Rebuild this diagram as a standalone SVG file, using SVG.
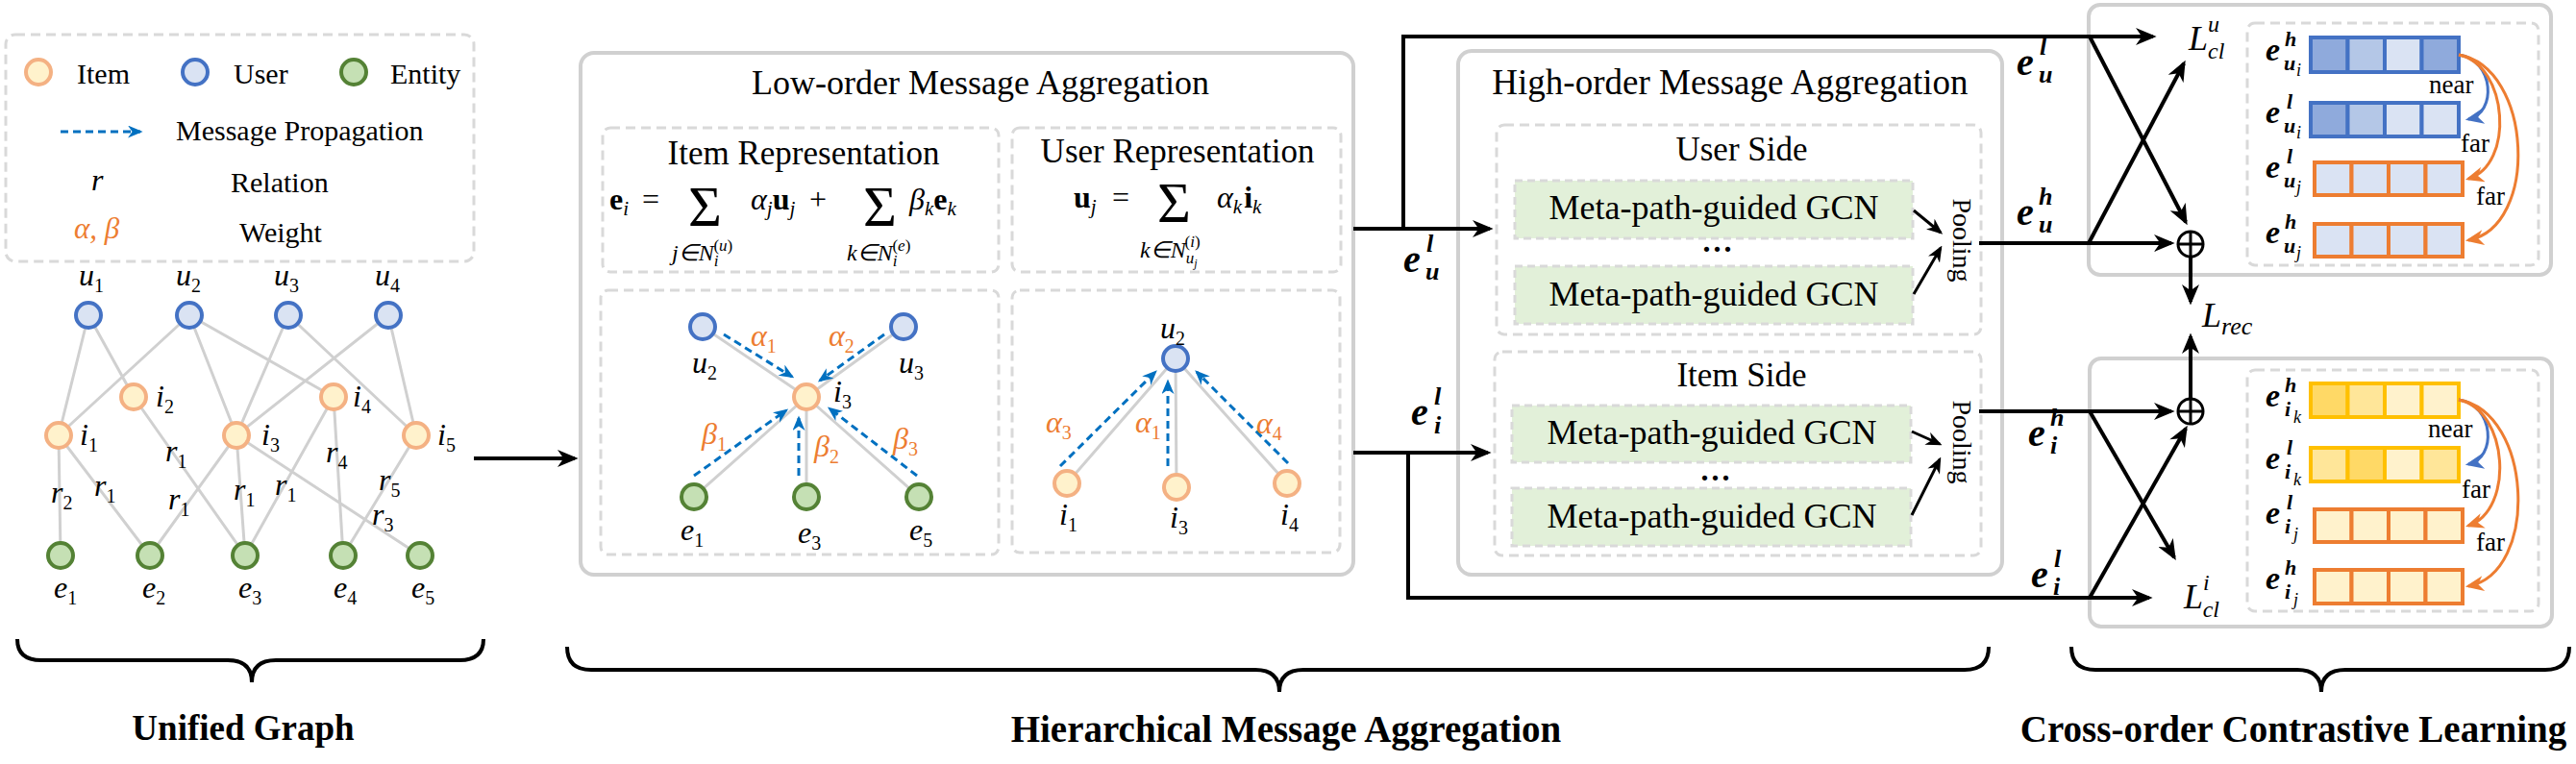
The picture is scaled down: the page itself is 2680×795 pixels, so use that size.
<svg xmlns="http://www.w3.org/2000/svg" width="2680" height="795" viewBox="0 0 2680 795">
<defs>
<style>
.t{font-family:"Liberation Serif","Times New Roman",serif;fill:#000}
.mi{font-family:"Liberation Serif","Times New Roman",serif;font-style:italic;fill:#000}
.mi:not([font-size]){font-size:32px}
.s{font-style:normal;font-size:20px}
.or{fill:#ed7d31}
.edge{stroke:#d0d0d0;stroke-width:3;fill:none}
.dash{stroke:#0070c0;stroke-width:3;stroke-dasharray:8 5;fill:none}
.item{fill:#fff2cc;stroke:#f4b183;stroke-width:4}
.user{fill:#dae3f3;stroke:#4472c4;stroke-width:4}
.ent{fill:#c5e0b4;stroke:#548235;stroke-width:4}
.box{fill:none;stroke:#d0d0d0;stroke-width:4}
.dbox{fill:none;stroke:#d9d9d9;stroke-width:3;stroke-dasharray:10 6}
.gcn{fill:#e2f0d9;stroke:#d9d9d9;stroke-width:3;stroke-dasharray:8 5}
.ln{stroke:#000;stroke-width:4;fill:none}
.lnt{stroke:#000;stroke-width:3;fill:none}
.eb{font-family:"Liberation Serif","Times New Roman",serif;font-style:italic;font-weight:bold;fill:#000}
.bt{font-family:"Liberation Serif","Times New Roman",serif;font-weight:bold;fill:#000}
.vb{stroke:#4472c4;stroke-width:4}
.vo{stroke:#ed7d31;stroke-width:4}
.vy{stroke:#ffc000;stroke-width:4}
</style>
<marker id="ah" viewBox="0 0 12 10" refX="10" refY="5" markerWidth="22" markerHeight="18" markerUnits="userSpaceOnUse" orient="auto"><path d="M0,0 L12,5 L0,10 L3.5,5z" fill="#000"/></marker>
<marker id="ahs" viewBox="0 0 12 10" refX="10" refY="5" markerWidth="17" markerHeight="14" markerUnits="userSpaceOnUse" orient="auto"><path d="M0,0 L12,5 L0,10 L3.5,5z" fill="#000"/></marker>
<marker id="bh" viewBox="0 0 12 10" refX="10" refY="5" markerWidth="16" markerHeight="13" markerUnits="userSpaceOnUse" orient="auto"><path d="M0,0 L12,5 L0,10 L3.5,5z" fill="#0070c0"/></marker>
<marker id="bc" viewBox="0 0 12 10" refX="10" refY="5" markerWidth="20" markerHeight="16" markerUnits="userSpaceOnUse" orient="auto"><path d="M0,0 L12,5 L0,10 L3.5,5z" fill="#4472c4"/></marker>
<marker id="oc" viewBox="0 0 12 10" refX="10" refY="5" markerWidth="20" markerHeight="16" markerUnits="userSpaceOnUse" orient="auto"><path d="M0,0 L12,5 L0,10 L3.5,5z" fill="#ed7d31"/></marker>
</defs>
<rect width="2680" height="795" fill="#fff"/>

<!-- Legend -->
<g id="legend">
<rect class="dbox" x="6" y="36" width="487" height="236" rx="10"/>
<circle class="item" cx="40" cy="75" r="13"/>
<text class="t" x="80" y="87" font-size="30">Item</text>
<circle class="user" cx="203" cy="75" r="13"/>
<text class="t" x="243" y="87" font-size="30">User</text>
<circle class="ent" cx="368" cy="75" r="13"/>
<text class="t" x="406" y="87" font-size="30">Entity</text>
<path class="dash" d="M63,137 H146" marker-end="url(#bh)"/>
<text class="t" x="183" y="146" font-size="30">Message Propagation</text>
<text class="mi" x="95" y="198" font-size="32">r</text>
<text class="t" x="240" y="200" font-size="30">Relation</text>
<text class="mi or" x="77" y="248" font-size="31">α, β</text>
<text class="t" x="249" y="252" font-size="30">Weight</text>
</g>

<!-- Unified graph edges -->
<g id="graph-edges">
<path class="edge" d="M92,328 L61,453 M92,328 L139,413 M197,328 L61,453 M197,328 L246,453 M197,328 L347,413 M300,328 L246,453 M300,328 L433,453 M404,328 L246,453 M404,328 L433,453"/>
<path class="edge" d="M61,453 L63,578 M61,453 L156,578 M139,413 L255,578 M246,453 L156,578 M246,453 L255,578 M246,453 L437,578 M347,413 L255,578 M347,413 L357,578 M433,453 L357,578"/>
<text class="mi" x="53" y="523">r<tspan class="s" dy="7">2</tspan></text>
<text class="mi" x="98" y="516">r<tspan class="s" dy="7">1</tspan></text>
<text class="mi" x="172" y="480">r<tspan class="s" dy="7">1</tspan></text>
<text class="mi" x="175" y="530">r<tspan class="s" dy="7">1</tspan></text>
<text class="mi" x="243" y="520">r<tspan class="s" dy="7">1</tspan></text>
<text class="mi" x="286" y="515">r<tspan class="s" dy="7">1</tspan></text>
<text class="mi" x="339" y="481">r<tspan class="s" dy="7">4</tspan></text>
<text class="mi" x="394" y="510">r<tspan class="s" dy="7">5</tspan></text>
<text class="mi" x="387" y="546">r<tspan class="s" dy="7">3</tspan></text>
</g>

<!-- Unified graph nodes -->
<g id="u1"><circle class="user" cx="92" cy="328" r="13"/><text class="mi" x="82" y="297">u<tspan class="s" dy="7">1</tspan></text></g>
<g id="u2"><circle class="user" cx="197" cy="328" r="13"/><text class="mi" x="183" y="297">u<tspan class="s" dy="7">2</tspan></text></g>
<g id="u3"><circle class="user" cx="300" cy="328" r="13"/><text class="mi" x="285" y="297">u<tspan class="s" dy="7">3</tspan></text></g>
<g id="u4"><circle class="user" cx="404" cy="328" r="13"/><text class="mi" x="390" y="297">u<tspan class="s" dy="7">4</tspan></text></g>
<g id="i1"><circle class="item" cx="61" cy="453" r="13"/><text class="mi" x="83" y="463">i<tspan class="s" dy="7">1</tspan></text></g>
<g id="i2"><circle class="item" cx="139" cy="413" r="13"/><text class="mi" x="162" y="423">i<tspan class="s" dy="7">2</tspan></text></g>
<g id="i3"><circle class="item" cx="246" cy="453" r="13"/><text class="mi" x="272" y="463">i<tspan class="s" dy="7">3</tspan></text></g>
<g id="i4"><circle class="item" cx="347" cy="413" r="13"/><text class="mi" x="367" y="423">i<tspan class="s" dy="7">4</tspan></text></g>
<g id="i5"><circle class="item" cx="433" cy="453" r="13"/><text class="mi" x="455" y="463">i<tspan class="s" dy="7">5</tspan></text></g>
<g id="e1"><circle class="ent" cx="63" cy="578" r="13"/><text class="mi" x="56" y="622">e<tspan class="s" dy="7">1</tspan></text></g>
<g id="e2"><circle class="ent" cx="156" cy="578" r="13"/><text class="mi" x="148" y="622">e<tspan class="s" dy="7">2</tspan></text></g>
<g id="e3"><circle class="ent" cx="255" cy="578" r="13"/><text class="mi" x="248" y="622">e<tspan class="s" dy="7">3</tspan></text></g>
<g id="e4"><circle class="ent" cx="357" cy="578" r="13"/><text class="mi" x="347" y="622">e<tspan class="s" dy="7">4</tspan></text></g>
<g id="e5"><circle class="ent" cx="437" cy="578" r="13"/><text class="mi" x="428" y="622">e<tspan class="s" dy="7">5</tspan></text></g>

<!-- Low-order message aggregation -->
<g id="low-order">
<rect class="box" x="604" y="55" width="804" height="543" rx="14"/>
<text class="t" x="1020" y="98" font-size="36" text-anchor="middle">Low-order Message Aggregation</text>
</g>

<g id="item-rep">
<rect class="dbox" x="627" y="133" width="412" height="150" rx="8"/>
<text class="t" x="836" y="171" font-size="35" text-anchor="middle">Item Representation</text>
<text class="t" x="634" y="218" font-size="32" font-weight="bold">e<tspan font-size="21" font-style="italic" font-weight="normal" dy="6">i</tspan></text>
<text class="t" x="668" y="218" font-size="32">=</text>
<text class="t" x="716" y="235" font-size="60">Σ</text>
<text class="mi" x="781" y="218">α<tspan font-size="21" dy="6">j</tspan><tspan font-style="normal" font-weight="bold" font-size="32" dy="-6">u</tspan><tspan font-size="21" dy="6">j</tspan></text>
<text class="t" x="842" y="218" font-size="32">+</text>
<text class="t" x="898" y="235" font-size="60">Σ</text>
<text class="mi" x="946" y="218">β<tspan font-size="21" dy="6">k</tspan><tspan font-style="normal" font-weight="bold" font-size="32" dy="-6">e</tspan><tspan font-size="21" dy="6">k</tspan></text>
<text class="mi" x="699" y="271" font-size="24">j∈N<tspan font-size="17" dy="6">i</tspan><tspan font-size="17" dx="-5" dy="-16" font-style="normal">(<tspan font-style="italic">u</tspan>)</tspan></text>
<text class="mi" x="881" y="271" font-size="24">k∈N<tspan font-size="17" dy="6">i</tspan><tspan font-size="17" dx="-5" dy="-16" font-style="normal">(<tspan font-style="italic">e</tspan>)</tspan></text>
</g>

<g id="user-rep">
<rect class="dbox" x="1053" y="133" width="342" height="150" rx="8"/>
<text class="t" x="1225" y="169" font-size="35" text-anchor="middle">User Representation</text>
<text class="t" x="1117" y="216" font-size="32" font-weight="bold">u<tspan font-size="21" font-style="italic" font-weight="normal" dy="6">j</tspan></text>
<text class="t" x="1157" y="216" font-size="32">=</text>
<text class="t" x="1204" y="231" font-size="60">Σ</text>
<text class="mi" x="1266" y="216">α<tspan font-size="21" dy="6">k</tspan><tspan font-style="normal" font-weight="bold" font-size="32" dy="-6" dx="2">i</tspan><tspan font-size="21" dy="6">k</tspan></text>
<text class="mi" x="1186" y="268" font-size="24">k∈N<tspan font-size="17" dy="6">u</tspan><tspan font-size="12" dy="4">j</tspan><tspan font-size="17" dx="-13" dy="-21" font-style="normal">(<tspan font-style="italic">i</tspan>)</tspan></text>
</g>

<g id="item-tree">
<rect class="dbox" x="625" y="302" width="414" height="275" rx="8"/>
<path class="edge" d="M731,340 L839,413 M940,340 L839,413 M722,517 L839,413 M839,517 L839,413 M956,517 L839,413"/>
<path class="dash" d="M753,348 L824,392" marker-end="url(#bh)"/>
<path class="dash" d="M920,348 L853,396" marker-end="url(#bh)"/>
<path class="dash" d="M722,495 L818,427" marker-end="url(#bh)"/>
<path class="dash" d="M831,495 V435" marker-end="url(#bh)"/>
<path class="dash" d="M954,495 L863,425" marker-end="url(#bh)"/>
<circle class="user" cx="731" cy="340" r="13"/>
<circle class="user" cx="940" cy="340" r="13"/>
<circle class="item" cx="839" cy="413" r="13"/>
<circle class="ent" cx="722" cy="517" r="13"/>
<circle class="ent" cx="839" cy="517" r="13"/>
<circle class="ent" cx="956" cy="517" r="13"/>
<text class="mi" x="720" y="388">u<tspan class="s" dy="7">2</tspan></text>
<text class="mi" x="935" y="388">u<tspan class="s" dy="7">3</tspan></text>
<text class="mi" x="867" y="418">i<tspan class="s" dy="7">3</tspan></text>
<text class="mi" x="708" y="562">e<tspan class="s" dy="7">1</tspan></text>
<text class="mi" x="830" y="565">e<tspan class="s" dy="7">3</tspan></text>
<text class="mi" x="946" y="562">e<tspan class="s" dy="7">5</tspan></text>
<text class="mi or" x="781" y="360">α<tspan class="s" dy="7">1</tspan></text>
<text class="mi or" x="862" y="360">α<tspan class="s" dy="7">2</tspan></text>
<text class="mi or" x="730" y="462">β<tspan class="s" dy="7">1</tspan></text>
<text class="mi or" x="847" y="475">β<tspan class="s" dy="7">2</tspan></text>
<text class="mi or" x="929" y="467">β<tspan class="s" dy="7">3</tspan></text>
</g>

<g id="user-tree">
<rect class="dbox" x="1053" y="302" width="341" height="273" rx="8"/>
<path class="edge" d="M1223,373 L1110,503 M1223,373 L1224,507 M1223,373 L1339,503"/>
<path class="dash" d="M1103,485 L1202,387" marker-end="url(#bh)"/>
<path class="dash" d="M1215,485 V397" marker-end="url(#bh)"/>
<path class="dash" d="M1340,482 L1245,387" marker-end="url(#bh)"/>
<circle class="user" cx="1223" cy="373" r="13"/>
<circle class="item" cx="1110" cy="503" r="13"/>
<circle class="item" cx="1224" cy="507" r="13"/>
<circle class="item" cx="1339" cy="503" r="13"/>
<text class="mi" x="1207" y="352">u<tspan class="s" dy="7">2</tspan></text>
<text class="mi" x="1102" y="546">i<tspan class="s" dy="7">1</tspan></text>
<text class="mi" x="1217" y="549">i<tspan class="s" dy="7">3</tspan></text>
<text class="mi" x="1332" y="546">i<tspan class="s" dy="7">4</tspan></text>
<text class="mi or" x="1088" y="450">α<tspan class="s" dy="7">3</tspan></text>
<text class="mi or" x="1181" y="450">α<tspan class="s" dy="7">1</tspan></text>
<text class="mi or" x="1307" y="451">α<tspan class="s" dy="7">4</tspan></text>
</g>

<!-- High-order message aggregation -->
<g id="high-order">
<rect class="box" x="1517" y="53" width="566" height="545" rx="14"/>
<text class="t" x="1800" y="98" font-size="37" text-anchor="middle">High-order Message Aggregation</text>
</g>
<g id="user-side">
<rect class="dbox" x="1557" y="130" width="504" height="218" rx="8"/>
<text class="t" x="1812" y="167" font-size="35" text-anchor="middle">User Side</text>
<rect class="gcn" x="1576" y="188" width="414" height="60"/>
<text class="t" x="1783" y="228" font-size="36" text-anchor="middle">Meta-path-guided GCN</text>
<text class="t" x="1788" y="262" font-size="32" font-weight="bold" text-anchor="middle" letter-spacing="3">...</text>
<rect class="gcn" x="1576" y="277" width="414" height="60"/>
<text class="t" x="1783" y="318" font-size="36" text-anchor="middle">Meta-path-guided GCN</text>
<text class="t" font-size="28" text-anchor="middle" transform="translate(2032,250) rotate(90)">Pooling</text>
</g>
<g id="item-side">
<rect class="dbox" x="1555" y="366" width="506" height="212" rx="8"/>
<text class="t" x="1812" y="402" font-size="35" text-anchor="middle">Item Side</text>
<rect class="gcn" x="1573" y="422" width="415" height="59"/>
<text class="t" x="1781" y="462" font-size="36" text-anchor="middle">Meta-path-guided GCN</text>
<text class="t" x="1786" y="500" font-size="32" font-weight="bold" text-anchor="middle" letter-spacing="3">...</text>
<rect class="gcn" x="1573" y="508" width="415" height="60"/>
<text class="t" x="1781" y="549" font-size="36" text-anchor="middle">Meta-path-guided GCN</text>
<text class="t" font-size="28" text-anchor="middle" transform="translate(2032,460) rotate(90)">Pooling</text>
</g>

<!-- Cross-order contrastive learning -->
<g id="cl-user">
<rect class="box" x="2173" y="5" width="481" height="281" rx="12"/>
<rect class="dbox" x="2338" y="24" width="303" height="252" rx="8"/>
<g class="vb">
<rect x="2404" y="39" width="38.5" height="36" fill="#8faadc"/><rect x="2442.5" y="39" width="38.5" height="36" fill="#b4c7e7"/><rect x="2481" y="39" width="38.5" height="36" fill="#dae3f3"/><rect x="2519.5" y="39" width="38.5" height="36" fill="#8faadc"/>
<rect x="2404" y="107" width="38.5" height="35" fill="#8faadc"/><rect x="2442.5" y="107" width="38.5" height="35" fill="#b4c7e7"/><rect x="2481" y="107" width="38.5" height="35" fill="#dae3f3"/><rect x="2519.5" y="107" width="38.5" height="35" fill="#dae3f3"/>
</g>
<g class="vo" fill="#dae3f3">
<rect x="2408" y="169" width="38.5" height="34"/><rect x="2446.5" y="169" width="38.5" height="34"/><rect x="2485" y="169" width="38.5" height="34"/><rect x="2523.5" y="169" width="38.5" height="34"/>
<rect x="2408" y="233" width="38.5" height="34"/><rect x="2446.5" y="233" width="38.5" height="34"/><rect x="2485" y="233" width="38.5" height="34"/><rect x="2523.5" y="233" width="38.5" height="34"/>
</g>
<text class="eb" x="2357" y="63" font-size="34">e</text><text class="eb" x="2377" y="48" font-size="22">h</text><text class="eb" x="2376" y="73" font-size="22">u</text><text class="mi" x="2389" y="79" font-size="18">i</text>
<text class="eb" x="2357" y="128" font-size="34">e</text><text class="eb" x="2379" y="113" font-size="22">l</text><text class="eb" x="2376" y="138" font-size="22">u</text><text class="mi" x="2389" y="144" font-size="18">i</text>
<text class="eb" x="2357" y="185" font-size="34">e</text><text class="eb" x="2379" y="170" font-size="22">l</text><text class="eb" x="2376" y="195" font-size="22">u</text><text class="mi" x="2389" y="201" font-size="18">j</text>
<text class="eb" x="2357" y="253" font-size="34">e</text><text class="eb" x="2377" y="238" font-size="22">h</text><text class="eb" x="2376" y="263" font-size="22">u</text><text class="mi" x="2389" y="269" font-size="18">j</text>
<path d="M2558,57 C2595,62 2598,118 2568,124" stroke="#4472c4" stroke-width="3" fill="none" marker-end="url(#bc)"/>
<path d="M2558,57 C2610,68 2616,172 2568,186" stroke="#ed7d31" stroke-width="3" fill="none" marker-end="url(#oc)"/>
<path d="M2558,57 C2635,70 2642,236 2568,250" stroke="#ed7d31" stroke-width="3" fill="none" marker-end="url(#oc)"/>
<text class="t" x="2527" y="97" font-size="27">near</text>
<text class="t" x="2560" y="158" font-size="27">far</text>
<text class="t" x="2576" y="213" font-size="27">far</text>
</g>

<g id="cl-item">
<rect class="box" x="2174" y="373" width="481" height="279" rx="12"/>
<rect class="dbox" x="2338" y="385" width="303" height="251" rx="8"/>
<g class="vy">
<rect x="2404" y="399" width="38.5" height="35" fill="#ffd966"/><rect x="2442.5" y="399" width="38.5" height="35" fill="#ffe699"/><rect x="2481" y="399" width="38.5" height="35" fill="#fff2cc"/><rect x="2519.5" y="399" width="38.5" height="35" fill="#fff2cc"/>
<rect x="2404" y="466" width="38.5" height="35" fill="#ffe699"/><rect x="2442.5" y="466" width="38.5" height="35" fill="#ffd966"/><rect x="2481" y="466" width="38.5" height="35" fill="#fff2cc"/><rect x="2519.5" y="466" width="38.5" height="35" fill="#ffe699"/>
</g>
<g class="vo" fill="#fff2cc">
<rect x="2408" y="530" width="38.5" height="34"/><rect x="2446.5" y="530" width="38.5" height="34"/><rect x="2485" y="530" width="38.5" height="34"/><rect x="2523.5" y="530" width="38.5" height="34"/>
<rect x="2408" y="593" width="38.5" height="35"/><rect x="2446.5" y="593" width="38.5" height="35"/><rect x="2485" y="593" width="38.5" height="35"/><rect x="2523.5" y="593" width="38.5" height="35"/>
</g>
<text class="eb" x="2357" y="423" font-size="34">e</text><text class="eb" x="2377" y="408" font-size="22">h</text><text class="eb" x="2377" y="433" font-size="22">i</text><text class="mi" x="2386" y="440" font-size="18">k</text>
<text class="eb" x="2357" y="488" font-size="34">e</text><text class="eb" x="2379" y="473" font-size="22">l</text><text class="eb" x="2377" y="498" font-size="22">i</text><text class="mi" x="2386" y="505" font-size="18">k</text>
<text class="eb" x="2357" y="545" font-size="34">e</text><text class="eb" x="2379" y="530" font-size="22">l</text><text class="eb" x="2377" y="555" font-size="22">i</text><text class="mi" x="2386" y="562" font-size="18">j</text>
<text class="eb" x="2357" y="613" font-size="34">e</text><text class="eb" x="2377" y="598" font-size="22">h</text><text class="eb" x="2377" y="623" font-size="22">i</text><text class="mi" x="2386" y="630" font-size="18">j</text>
<path d="M2558,416 C2595,421 2598,477 2568,483" stroke="#4472c4" stroke-width="3" fill="none" marker-end="url(#bc)"/>
<path d="M2558,416 C2610,427 2616,531 2568,547" stroke="#ed7d31" stroke-width="3" fill="none" marker-end="url(#oc)"/>
<path d="M2558,416 C2635,429 2642,596 2568,610" stroke="#ed7d31" stroke-width="3" fill="none" marker-end="url(#oc)"/>
<text class="t" x="2526" y="455" font-size="27">near</text>
<text class="t" x="2561" y="518" font-size="27">far</text>
<text class="t" x="2576" y="573" font-size="27">far</text>
</g>

<g id="plus-u"><circle cx="2279" cy="254" r="13" fill="#fff" stroke="#000" stroke-width="3"/><path class="lnt" d="M2266,254 H2292 M2279,241 V267"/></g>
<g id="plus-i"><circle cx="2279" cy="428" r="13" fill="#fff" stroke="#000" stroke-width="3"/><path class="lnt" d="M2266,428 H2292 M2279,415 V441"/></g>
<g id="losses">
<text class="mi" x="2277" y="52" font-size="36">L<tspan font-size="24" dy="-19">u</tspan><tspan font-size="24" dx="-12" dy="28">cl</tspan></text>
<text class="mi" x="2291" y="340" font-size="36">L<tspan font-size="26" dy="8">rec</tspan></text>
<text class="mi" x="2272" y="633" font-size="36">L<tspan font-size="24" dy="-19">i</tspan><tspan font-size="24" dx="-7" dy="28">cl</tspan></text>
</g>

<!-- Connectors -->
<g id="connectors">
<path class="ln" d="M493,477 H598" marker-end="url(#ah)"/>
<path class="ln" d="M1408,238 H1550" marker-end="url(#ah)"/>
<path class="ln" d="M1460,238 V38 H2240" marker-end="url(#ah)"/>
<path class="ln" d="M1408,471 H1548" marker-end="url(#ah)"/>
<path class="ln" d="M1465,471 V622 H2236" marker-end="url(#ah)"/>
<path class="lnt" d="M1991,219 L2019,242" marker-end="url(#ahs)"/>
<path class="lnt" d="M1991,306 L2019,258" marker-end="url(#ahs)"/>
<path class="lnt" d="M1989,449 L2018,462" marker-end="url(#ahs)"/>
<path class="lnt" d="M1989,536 L2018,478" marker-end="url(#ahs)"/>
<path class="ln" d="M2059,253 H2259" marker-end="url(#ah)"/>
<path class="ln" d="M2059,428 H2259" marker-end="url(#ah)"/>
<path class="ln" d="M2174,38 L2274,231" marker-end="url(#ah)"/>
<path class="ln" d="M2173,253 L2272,66" marker-end="url(#ah)"/>
<path class="ln" d="M2279,267 V314" marker-end="url(#ah)"/>
<path class="ln" d="M2279,415 V350" marker-end="url(#ah)"/>
<path class="ln" d="M2174,428 L2262,580" marker-end="url(#ah)"/>
<path class="ln" d="M2174,622 L2274,446" marker-end="url(#ah)"/>
</g>

<g id="flow-labels">
<text class="eb" x="1460" y="283" font-size="40">e</text><text class="eb" x="1484" y="262" font-size="26">l</text><text class="eb" x="1483" y="291" font-size="26">u</text>
<text class="eb" x="1468" y="442" font-size="40">e</text><text class="eb" x="1492" y="421" font-size="26">l</text><text class="eb" x="1492" y="451" font-size="26">i</text>
<text class="eb" x="2098" y="78" font-size="40">e</text><text class="eb" x="2122" y="57" font-size="26">l</text><text class="eb" x="2121" y="86" font-size="26">u</text>
<text class="eb" x="2098" y="234" font-size="40">e</text><text class="eb" x="2121" y="213" font-size="26">h</text><text class="eb" x="2121" y="242" font-size="26">u</text>
<text class="eb" x="2110" y="464" font-size="40">e</text><text class="eb" x="2133" y="443" font-size="26">h</text><text class="eb" x="2133" y="472" font-size="26">i</text>
<text class="eb" x="2113" y="611" font-size="40">e</text><text class="eb" x="2137" y="590" font-size="26">l</text><text class="eb" x="2136" y="619" font-size="26">i</text>
</g>

<!-- Braces and section titles -->
<g id="braces">
<path class="ln" d="M18,665 Q18,687 43,687 H237 Q262,687 262,710 Q262,687 287,687 H478 Q503,687 503,665"/>
<path class="ln" d="M590,673 Q590,697 615,697 H1306 Q1331,697 1331,720 Q1331,697 1356,697 H2044 Q2069,697 2069,673"/>
<path class="ln" d="M2155,673 Q2155,697 2180,697 H2390 Q2415,697 2415,720 Q2415,697 2440,697 H2648 Q2673,697 2673,673"/>
<text class="bt" x="253" y="770" text-anchor="middle" font-size="37">Unified Graph</text>
<text class="bt" x="1338" y="772" text-anchor="middle" font-size="39">Hierarchical Message Aggregation</text>
<text class="bt" x="2386" y="772" text-anchor="middle" font-size="39">Cross-order Contrastive Learning</text>
</g>
</svg>
